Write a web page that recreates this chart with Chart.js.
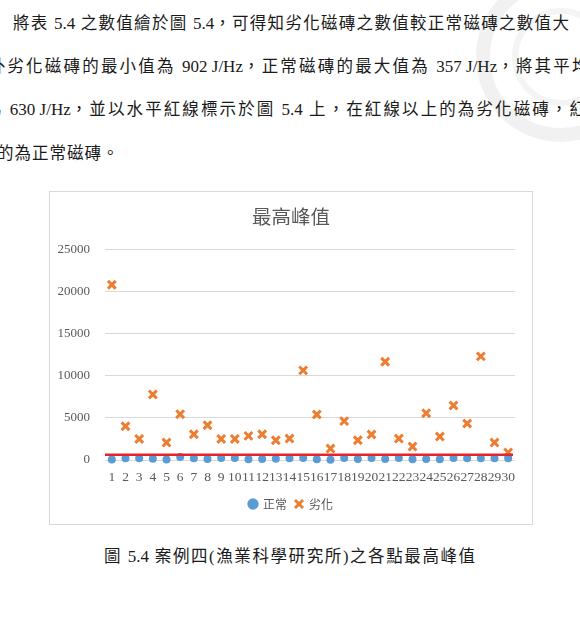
<!DOCTYPE html>
<html><head><meta charset="utf-8">
<script src="https://cdn.jsdelivr.net/npm/chart.js@4.4.1/dist/chart.umd.min.js"></script>
<style>
html,body{margin:0;padding:0;background:#fff;}
#page{position:relative;width:580px;height:634px;overflow:hidden;background:#fff;}
.ln{position:absolute;white-space:nowrap;font-family:"Liberation Serif","Noto Sans CJK TC",serif;font-size:16.5px;color:#1a1a1a;line-height:20px;letter-spacing:1px;z-index:2;}
.ln .l{letter-spacing:0;font-size:17px;}
#box{position:absolute;left:49px;top:191px;width:484px;height:334px;border:1px solid #d9d9d9;box-sizing:border-box;z-index:2;background:#fff;}
#box canvas{display:block;}
#seal{position:absolute;left:476px;top:-28px;width:170px;height:170px;border-radius:50%;border:14px solid rgba(210,210,210,0.3);box-sizing:border-box;z-index:1;}
#seal2{position:absolute;left:512px;top:8px;width:98px;height:98px;border-radius:50%;border:6px solid rgba(210,210,210,0.25);box-sizing:border-box;z-index:1;}
</style></head>
<body><div id="page">
<div id="seal"></div><div id="seal2"></div>
<div class="ln" style="left:13px;top:14px;letter-spacing:1.3px;">將表 <span class="l">5.4</span> 之數值繪於圖 <span class="l">5.4</span>，可得知劣化磁磚之數值較正常磁磚之數值大</div>
<div class="ln" style="left:-30px;top:57px;letter-spacing:2.2px;">此外劣化磁磚的最小值為 <span class="l">902 J/Hz</span>，正常磁磚的最大值為 <span class="l">357 J/Hz</span>，將其平均</div>
<div class="ln" style="left:-15px;top:100px;letter-spacing:2.1px;">為 <span class="l">630 J/Hz</span>，並以水平紅線標示於圖 <span class="l">5.4</span> 上，在紅線以上的為劣化磁磚，紅線</div>
<div class="ln" style="left:-38px;top:144px;">以下的為正常磁磚。</div>
<div id="box"><canvas id="c" width="482" height="332"></canvas></div>
<div class="ln" style="left:104px;top:547px;letter-spacing:1.6px;">圖 <span class="l">5.4</span> 案例四(漁業科學研究所)之各點最高峰值</div>
</div>
<script>
const categories = ['1','2','3','4','5','6','7','8','9','10','11','12','13','14','15','16','17','18','19','20','21','22','23','24','25','26','27','28','29','30'];
const normalValues = [50,200,220,150,60,357,200,120,250,240,100,110,150,220,230,90,30,230,130,230,120,240,100,110,90,230,220,210,220,200];
const degradedValues = [20850,4020,2505,7800,2075,5450,3065,4140,2505,2505,2865,3065,2350,2550,10670,5415,1360,4620,2350,3030,11690,2550,1600,5570,2790,6490,4340,12335,2075,902];
const yTicks = [0,5000,10000,15000,20000,25000];
const threshold = 630;
const seriesNames = ['正常','劣化'];
const chartTitle = '最高峰值';

const thresholdLine = {
  id:'thresholdLine',
  afterDatasetsDraw(chart){
    const {ctx, chartArea, scales} = chart;
    const py = scales.y.getPixelForValue(threshold);
    ctx.save();
    ctx.strokeStyle = '#E8242B';
    ctx.lineWidth = 2.6;
    ctx.beginPath();
    ctx.moveTo(chartArea.left, py);
    ctx.lineTo(chartArea.right - 2, py);
    ctx.stroke();
    ctx.restore();
  }
};

new Chart(document.getElementById('c'), {
  type:'line',
  data:{
    labels: categories,
    datasets:[
      {label: seriesNames[0], data: normalValues, showLine:false, clip:false, pointStyle:'circle', pointRadius:4, pointHoverRadius:4, backgroundColor:'#5B9BD5', borderColor:'#5B9BD5', borderWidth:0},
      {label: seriesNames[1], data: degradedValues, showLine:false, clip:false, pointStyle:'crossRot', pointRadius:5.5, pointHoverRadius:5.5, backgroundColor:'#ED7D31', borderColor:'#ED7D31', borderWidth:3}
    ]
  },
  options:{
    responsive:false, animation:false, devicePixelRatio:1,
    layout:{padding:{left:0,right:0,top:0,bottom:4}},
    plugins:{
      title:{display:true, text: chartTitle, color:'#595959', font:{family:'"Noto Sans CJK TC"', size:19.5, weight:'normal'}, padding:{top:13,bottom:21.5}},
      legend:{position:'bottom', labels:{usePointStyle:true, boxWidth:8, boxHeight:8, padding:8, color:'#595959', font:{family:'"Noto Sans CJK TC"', size:12}}},
      tooltip:{enabled:false}
    },
    scales:{
      y:{min:0,max:25000,
        afterBuildTicks(s){ s.ticks = yTicks.map(v=>({value:v})); },
        afterFit(s){ s.width = 55; },
        ticks:{color:'#595959', padding:15, font:{family:'"Liberation Serif"', size:13}, callback:(v)=>String(v)},
        grid:{color:'#d9d9d9', lineWidth:1, drawTicks:false}, border:{display:false}},
      yRight:{position:'right', display:true, afterFit(s){ s.width = 17; },
        ticks:{display:false}, grid:{display:false, drawTicks:false}, border:{display:false}},
      x:{offset:true, grid:{display:false, drawTicks:false}, border:{display:false},
        afterFit(s){ s.height = 30; },
        ticks:{autoSkip:false, maxRotation:0, minRotation:0, padding:9, color:'#595959', font:{family:'"Liberation Serif"', size:13.5}}}
    }
  },
  plugins:[thresholdLine]
});
</script>
</body></html>
